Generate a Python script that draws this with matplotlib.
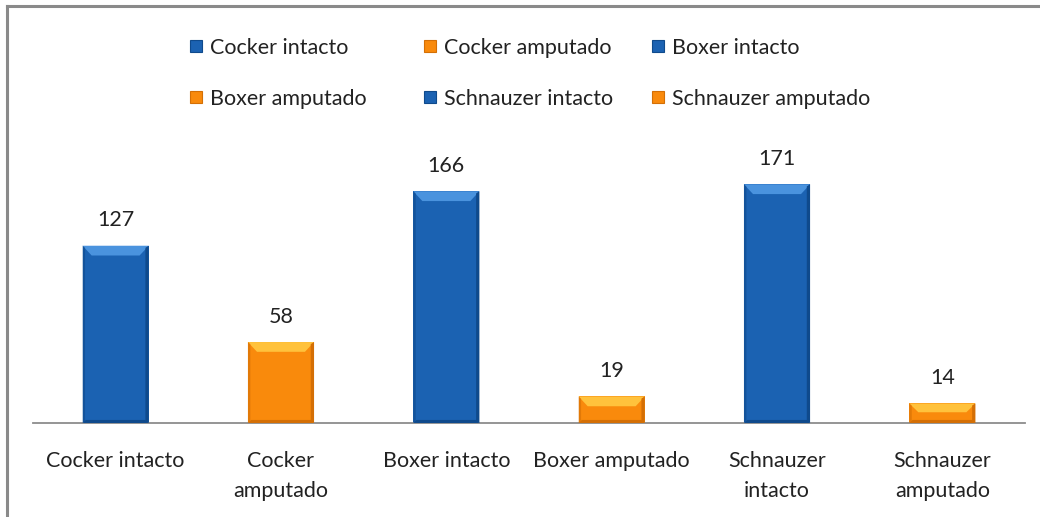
import matplotlib

matplotlib.use("Agg")
import matplotlib.pyplot as plt
from matplotlib.lines import Line2D
from matplotlib.patches import Polygon, Rectangle

# counts per group
categories = ["Cocker intacto", "Cocker\namputado", "Boxer intacto",
              "Boxer amputado", "Schnauzer\nintacto", "Schnauzer\namputado"]
legend_names = ["Cocker intacto", "Cocker amputado", "Boxer intacto",
                "Boxer amputado", "Schnauzer intacto", "Schnauzer amputado"]
values = [127, 58, 166, 19, 171, 14]
kinds = ["intacto", "amputado", "intacto", "amputado", "intacto", "amputado"]

BLUE = "#1B62B2"
ORANGE = "#F98A0C"
LIGHT = {BLUE: "#4A93DE", ORANGE: "#FFC23C"}
DARK = {BLUE: "#0F4A8C", ORANGE: "#D46F05"}
FS = 15.5
W, H = 1040, 517

plt.rcParams["font.family"] = ["Lato", "DejaVu Sans"]

fig = plt.figure(figsize=(W / 100, H / 100), dpi=100)
ax = fig.add_axes([0.0317, 0.1818, 0.9539, 0.54])

x = list(range(len(values)))
colors = [BLUE if k == "intacto" else ORANGE for k in kinds]
w = 0.4
bars = ax.bar(x, values, w, color=colors, zorder=2)

# fake the office-style bevel: light top band, darker sides/bottom
dx = 0.055
dy = 7.0
for b, c in zip(bars, colors):
    x0, x1, h = b.get_x(), b.get_x() + b.get_width(), b.get_height()
    e = min(dy, h * 0.45)
    ax.add_patch(Polygon([(x0, h), (x1, h), (x1 - dx, h - e), (x0 + dx, h - e)],
                         closed=True, color=LIGHT[c], lw=0, zorder=3))
    ax.add_patch(Polygon([(x0, 0), (x1, 0), (x1 - 0.02, 2.2), (x0 + 0.02, 2.2)],
                         closed=True, color=DARK[c], lw=0, zorder=3))
    ax.add_patch(Polygon([(x1, 0), (x1, h), (x1 - 0.02, h - 1.5), (x1 - 0.02, 1.5)],
                         closed=True, color=DARK[c], lw=0, zorder=3))
    ax.add_patch(Polygon([(x0, 0), (x0, h), (x0 + 0.015, h - 1.5), (x0 + 0.015, 1.5)],
                         closed=True, color=DARK[c], lw=0, zorder=3, alpha=0.6))
    ax.text(b.get_x() + b.get_width() / 2, h + 11, str(int(h)), ha="center",
            va="bottom", fontsize=FS, color="#222222")

ax.set_xlim(-0.5, len(values) - 0.5)
ax.set_ylim(0, 200)
ax.set_yticks([])
ax.set_xticks(x)
ax.set_xticklabels(categories, fontsize=FS, color="#222222", linespacing=1.65)
ax.tick_params(axis="x", length=0, pad=20)
for s in ["top", "right", "left"]:
    ax.spines[s].set_visible(False)
ax.spines["bottom"].set_color("#8c8c8c")
ax.spines["bottom"].set_linewidth(1.3)

# legend: excel puts it in fixed slots, row by row
col_px = [196, 430, 658]
row_px = [46, 97]
sq = 12
for i, (name, c) in enumerate(zip(legend_names, colors)):
    cx, cy = col_px[i % 3], row_px[i // 3]
    fig.add_artist(Rectangle(((cx - sq / 2) / W, 1 - (cy + sq / 2) / H), sq / W, sq / H,
                             facecolor=c, edgecolor=DARK[c], lw=0.8,
                             transform=fig.transFigure))
    fig.text((cx + 14) / W, 1 - cy / H, name, fontsize=FS, color="#222222",
             ha="left", va="center_baseline")

# outer chart frame (only top/left visible in the crop)
fig.add_artist(Line2D([0.0067, 1.0], [0.988, 0.988], color="#8a8a8a", lw=2.2,
                      transform=fig.transFigure))
fig.add_artist(Line2D([0.0072, 0.0072], [0.0, 0.988], color="#8a8a8a", lw=2.2,
                      transform=fig.transFigure))

fig.savefig("out.png")
